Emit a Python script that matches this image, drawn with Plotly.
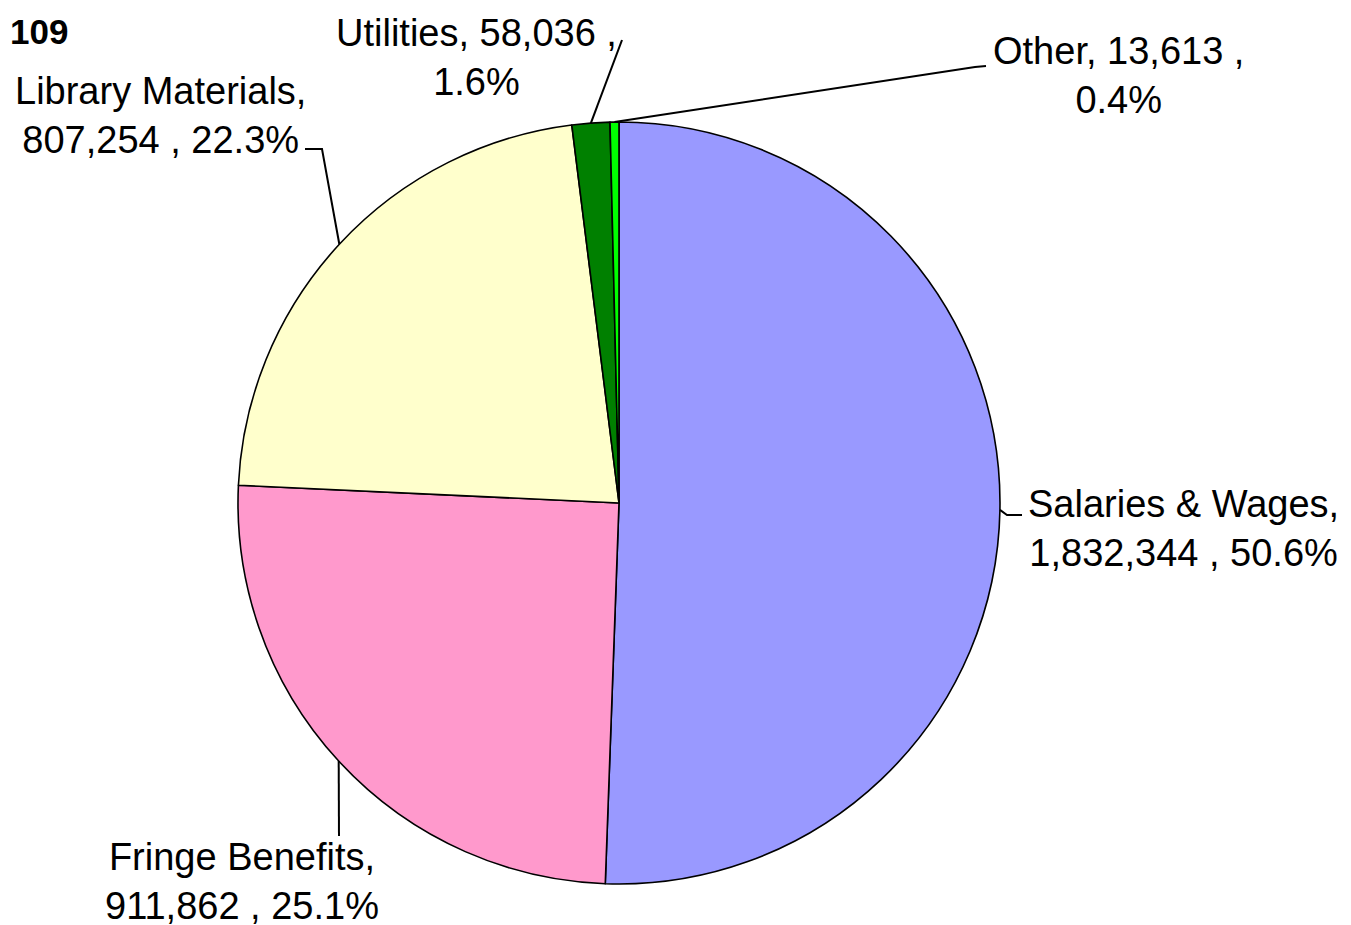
import math
import plotly.graph_objects as go

# ---- data ----
categories = ["Salaries & Wages", "Fringe Benefits", "Library Materials", "Utilities", "Other"]
values = [1832344, 911862, 807254, 58036, 13613]
percents = ["50.6%", "25.1%", "22.3%", "1.6%", "0.4%"]
colors = ["#9999FF", "#FF99CC", "#FFFFCC", "#008000", "#00FF00"]
title_text = "109"

# ---- layout constants (page pixels) ----
W, H = 1351, 925
OFF = 8  # browser default body margin
CX, CY, R = 619, 503, 381
FONT = "Liberation Sans, Arial, sans-serif"
FS = 38

label_pos = {
    "Salaries & Wages": (1183, 528),
    "Fringe Benefits": (242, 881),
    "Library Materials": (160, 115),
    "Utilities": (476, 57),
    "Other": (1118, 75),
}
label_text = {
    "Salaries & Wages": "Salaries & Wages,<br>{v} , {p}",
    "Fringe Benefits": "Fringe Benefits,<br>{v} , {p}",
    "Library Materials": "Library Materials,<br>{v} , {p}",
    "Utilities": "Utilities, {v} ,<br>{p}",
    "Other": "Other, {v} ,<br>{p}",
}
elbows = {
    "Salaries & Wages": [(1007, 515), (1022, 515)],
    "Fringe Benefits": [(339, 836)],
    "Library Materials": [(322, 149), (305, 149)],
    "Utilities": [(622, 40)],
    "Other": [(975, 67), (986, 66)],
}

def px(x):
    return (x - OFF) / W

def py(y):
    return 1 - (y - OFF) / H

fig = go.Figure(go.Pie(
    labels=categories,
    values=values,
    sort=False,
    direction="clockwise",
    rotation=0,
    marker=dict(colors=colors, line=dict(color="black", width=1.6)),
    textinfo="none",
    hoverinfo="label+value+percent",
    domain=dict(x=[px(CX - R), px(CX + R)], y=[py(CY + R), py(CY - R)]),
    showlegend=False,
))

total = sum(values)
cum = 0
shapes = []
annotations = []
for cat, v, p in zip(categories, values, percents):
    mid = (cum + v / 2) / total
    cum += v
    th = 2 * math.pi * mid
    sx = CX + R * math.sin(th)
    sy = CY - R * math.cos(th)
    pts = [(sx, sy)] + elbows[cat]
    path = "M " + " L ".join(f"{px(x):.5f},{py(y):.5f}" for x, y in pts)
    shapes.append(dict(type="path", path=path, xref="paper", yref="paper",
                       line=dict(color="black", width=2)))
    lx, ly = label_pos[cat]
    annotations.append(dict(
        text=label_text[cat].format(v=f"{v:,}", p=p),
        x=px(lx), y=py(ly), xref="paper", yref="paper",
        xanchor="center", yanchor="middle", align="center",
        showarrow=False, font=dict(family=FONT, size=FS, color="black"),
    ))

annotations.append(dict(
    text=f"<b>{title_text}</b>", x=0, y=py(32), xref="paper", yref="paper",
    xanchor="left", yanchor="middle", showarrow=False,
    font=dict(family=FONT, size=35, color="black"),
))

fig.update_layout(
    width=W, height=H,
    margin=dict(l=0, r=0, t=0, b=0),
    paper_bgcolor="white", plot_bgcolor="white",
    shapes=shapes, annotations=annotations,
)

fig.write_html("out.html")
